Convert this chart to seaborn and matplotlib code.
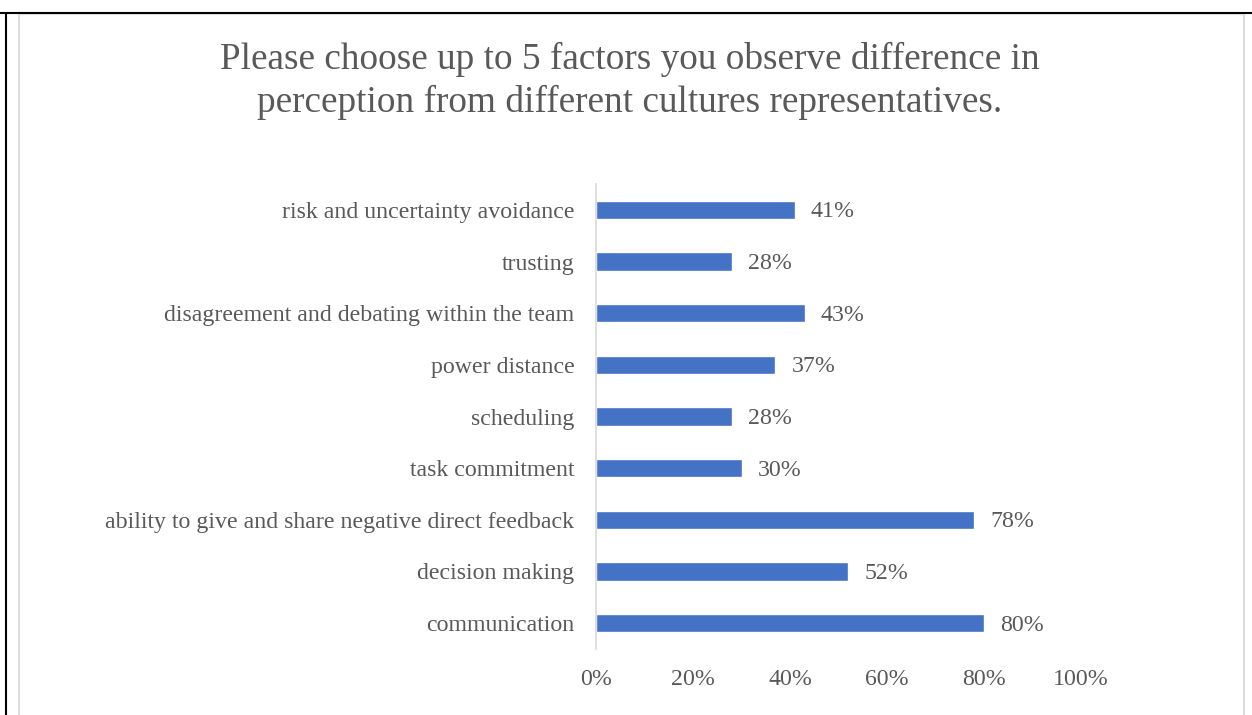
import matplotlib
matplotlib.use("Agg")
import matplotlib.pyplot as plt
from matplotlib.lines import Line2D
import seaborn as sns
import pandas as pd

categories = [
    "risk and uncertainty avoidance",
    "trusting",
    "disagreement and debating within the team",
    "power distance",
    "scheduling",
    "task commitment",
    "ability to give and share negative direct feedback",
    "decision making",
    "communication",
]
shares = [41, 28, 43, 37, 28, 30, 78, 52, 80]
x_ticks = [0, 20, 40, 60, 80, 100]
title = ("Please choose up to 5 factors you observe difference in\n"
         "perception from different cultures representatives.")

sns.set_theme(style="white")
plt.rcParams["font.family"] = ["Liberation Serif", "DejaVu Serif"]

TEXT = "#595959"
BAR = "#4472C4"
W, H = 1252, 715
LABEL_SIZE = 17.2

df = pd.DataFrame({"factor": categories, "share": shares})

fig = plt.figure(figsize=(W / 100, H / 100), dpi=100)
ax = fig.add_axes([596 / W, (H - 649) / H, 485 / W, 465 / H])

sns.barplot(data=df, x="share", y="factor", color=BAR, width=0.35,
            saturation=1, ax=ax)

ax.set_xlim(0, 100)
ax.set_ylim(len(categories) - 0.5, -0.5)
ax.set_xticks(x_ticks)
ax.set_xticklabels([f"{t}%" for t in x_ticks])
ax.set_xlabel("")
ax.set_ylabel("")
ax.tick_params(axis="both", length=0, labelsize=LABEL_SIZE, labelcolor=TEXT)
ax.tick_params(axis="y", pad=15.5)
ax.tick_params(axis="x", pad=14.5)

for side in ["top", "right", "bottom"]:
    ax.spines[side].set_visible(False)
ax.spines["left"].set_color("#D9D9D9")
ax.spines["left"].set_linewidth(1.2)

for patch, val in zip(ax.patches, shares):
    y = patch.get_y() + patch.get_height() / 2
    ax.annotate(f"{val}%", xy=(val, y), xytext=(11.5, -1.5),
                textcoords="offset points", va="center", ha="left",
                fontsize=LABEL_SIZE, color=TEXT)

fig.text(630 / W, 1 - 81 / H, title, ha="center", va="center",
         fontsize=26.8, color=TEXT, linespacing=1.26)


def px_line(x0, y0, x1, y1, color, lw):
    fig.add_artist(Line2D([x0 / W, x1 / W], [1 - y0 / H, 1 - y1 / H],
                          color=color, linewidth=lw,
                          transform=fig.transFigure))


# chart frame and surrounding cell border
px_line(18.5, 14, 18.5, H, "#D9D9D9", 1.3)
px_line(1243.5, 14, 1243.5, H, "#D9D9D9", 1.3)
px_line(18.5, 14, 1243.5, 14, "#E6E6E6", 1.0)
px_line(0, 12.5, W, 12.5, "black", 1.5)
px_line(5.5, 12.5, 5.5, H, "black", 1.5)

fig.savefig("out.png", dpi=100)
